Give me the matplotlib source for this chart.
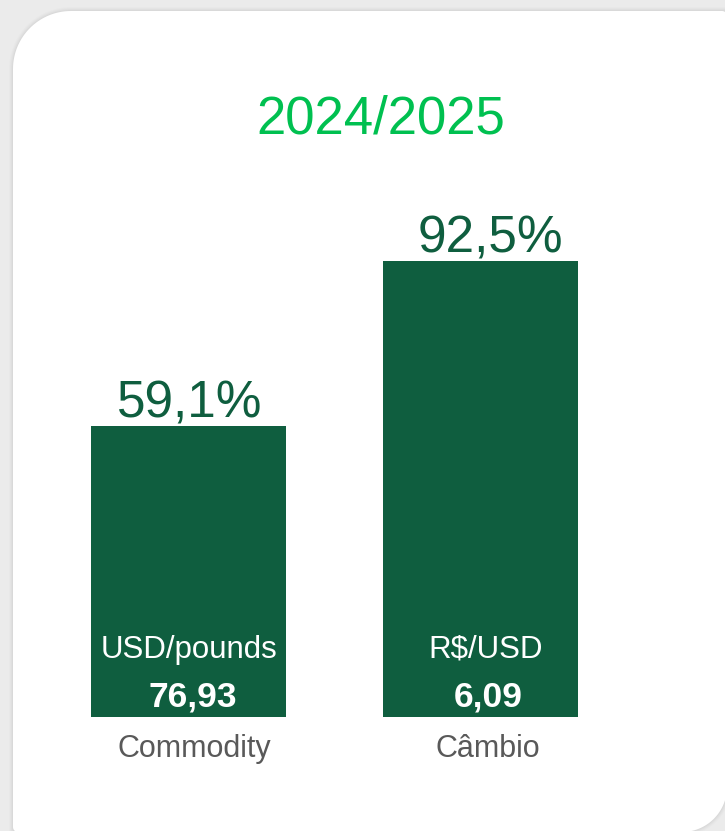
import matplotlib
matplotlib.use("Agg")
import numpy as np
import matplotlib.pyplot as plt
from matplotlib.patches import Polygon

plt.rcParams['font.family'] = ['Liberation Sans', 'DejaVu Sans']

## -- data
title = "2024/2025"
categories = ["Commodity", "Câmbio"]
pct_values = [59.1, 92.5]
pct_labels = ["59,1%", "92,5%"]
unit_labels = ["USD/pounds", "R$/USD"]
price_labels = ["76,93", "6,09"]

bar_color = '#0f5e3f'
title_color = '#00c050'
cat_color = '#595959'

W, H = 725, 831
fig = plt.figure(figsize=(W / 100, H / 100), dpi=100, facecolor='#ebebeb')


def card_outline(x0, y0, x1, y1, r_tl, r_tr, r_br, r_bl, n=30):
    ## -- rounded rectangle with a radius per corner (pixel units, y up)
    pts = []
    for (cx, cy, r, a0) in [(x1 - r_tr, y1 - r_tr, r_tr, 0),
                            (x0 + r_tl, y1 - r_tl, r_tl, 90),
                            (x0 + r_bl, y0 + r_bl, r_bl, 180),
                            (x1 - r_br, y0 + r_br, r_br, 270)]:
        t = np.radians(np.linspace(a0, a0 + 90, n))
        pts += list(zip(cx + r * np.cos(t), cy + r * np.sin(t)))
    return np.array(pts)


## -- background card (pixel units)
bg = fig.add_axes([0, 0, 1, 1])
bg.set_xlim(0, W)
bg.set_ylim(0, H)
bg.axis('off')
for d, a in [(4, 0.012), (3, 0.015), (2, 0.02), (1, 0.025)]:
    bg.add_patch(Polygon(card_outline(13 - d, -1 - d, 727 + d, H - 11 + d,
                                      58 + d, 5, 45 + d, 5),
                         closed=True, fc='black', ec='none', alpha=a))
bg.add_patch(Polygon(card_outline(13, -1, 727, H - 11, 58, 5, 45, 5),
                     closed=True, fc='white', ec='none'))

fig.text(381 / W, 698 / H, title, ha='center', va='baseline',
         fontsize=38, color=title_color)

## -- bars
ax = fig.add_axes([0, 114 / H, 1, 717 / H])
ax.patch.set_alpha(0)
ax.axis('off')
xs = [0, 1]
ax.set_xlim(-188 / 292.5, 537 / 292.5)
ax.set_ylim(0, 717 / 4.93)
ax.bar(xs, pct_values, width=195 / 292.5, color=bar_color)

for x, v, pl, ul, prl, cat in zip(xs, pct_values, pct_labels, unit_labels,
                                  price_labels, categories):
    ax.annotate(pl, (x, v), xytext=(2 + 8 * x, 8), textcoords='offset pixels',
                ha='center', va='baseline', fontsize=37, color=bar_color)
    ax.annotate(ul, (x, 0), xytext=(1 + 4 * x, 59), textcoords='offset pixels',
                ha='center', va='baseline', fontsize=22.5, color='white')
    ax.annotate(prl, (x, 0), xytext=(5 + 3 * x, 10), textcoords='offset pixels',
                ha='center', va='baseline', fontsize=25.5, color='white',
                fontweight='bold')
    ax.annotate(cat, (x, 0), xytext=(6 + x, -40), textcoords='offset pixels',
                ha='center', va='baseline', fontsize=22, color=cat_color,
                annotation_clip=False)

fig.savefig("out.png", dpi=100, facecolor=fig.get_facecolor())
